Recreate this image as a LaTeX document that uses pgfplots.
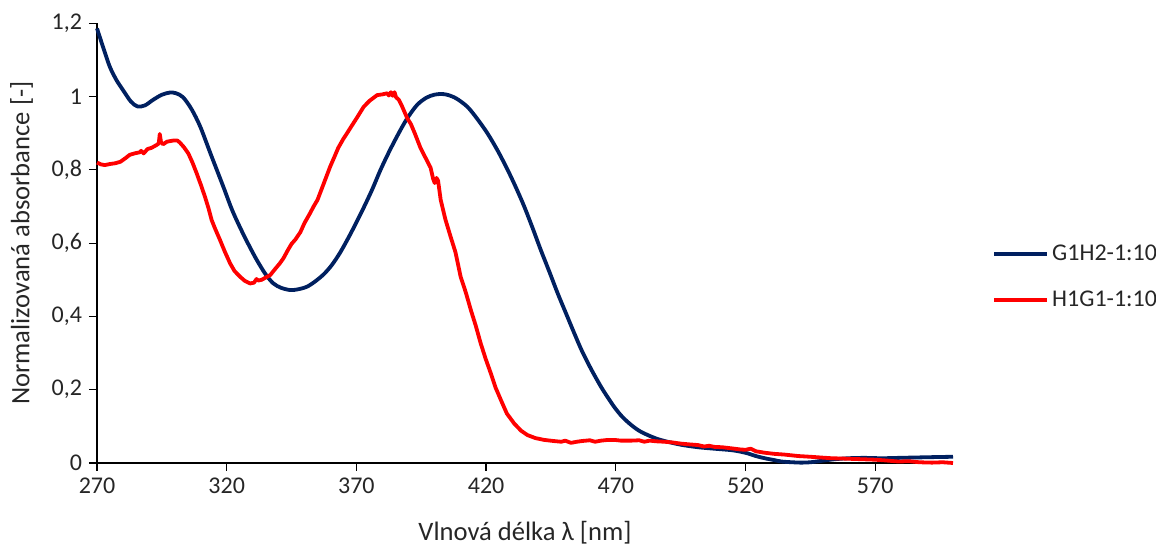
\documentclass[border=0pt]{standalone}
\usepackage{pgfplots}
\pgfplotsset{compat=1.18}
\usepackage{fontspec}
\setmainfont{Carlito}
\definecolor{navy}{RGB}{0,32,96}
\definecolor{redc}{RGB}{255,0,0}
\begin{document}
\begin{tikzpicture}
\path[use as bounding box] (-48.5pt,-41pt) rectangle (529.5pt,231.5pt);
\begin{axis}[
  at={(0,0)}, anchor=south west,
  scale only axis, width=428pt, height=219.85pt,
  xmin=270, xmax=600, ymin=0, ymax=1.2,
  xtick={270,320,370,420,470,520,570},
  ytick={0,0.2,0.4,0.6,0.8,1,1.2},
  yticklabels={0,{0,2},{0,4},{0,6},{0,8},1,{1,2}},
  axis x line*=bottom, axis y line*=left,
  tick align=outside, major tick length=4pt,
  tick style={black, line width=0.6pt},
  axis line style={black, line width=0.6pt},
  /pgf/number format/assume math mode=true,
  font=\fontsize{12}{14.4}\selectfont,
  tick label style={font=\fontsize{12}{14.4}\selectfont, text=black!85},
  xlabel={Vlnová délka λ [nm]},
  ylabel={Normalizovaná absorbance [-]},
  xlabel style={at={(axis description cs:0.5,-0.159)}, anchor=center, font=\fontsize{13.3}{16}\selectfont, text=black!85},
  ylabel style={at={(axis description cs:-0.088,0.5)}, anchor=center, font=\fontsize{13.3}{16}\selectfont, text=black!85},
  legend style={draw=none, fill=none, at={(1.0456,0.423)}, anchor=west, inner xsep=0pt, inner ysep=0pt, row sep=10pt, nodes={inner xsep=1.5pt}, font=\fontsize{12}{14.4}\selectfont, text=black!85},
  legend cell align=left,
  legend image code/.code={\draw[#1] (0pt,0pt) -- (26.5pt,0pt);},
  clip=false,
]
\addplot[navy, line width=1.9pt, line join=round, smooth] coordinates {
(270,1.186) (272.3,1.136) (274.9,1.082) (277.5,1.045) (280,1.018) (283,0.987)
(285.6,0.973) (288.5,0.976) (291.6,0.991) (295,1.005) (298.1,1.011) (300.5,1.009)
(303.2,0.998) (306.5,0.965) (309.8,0.918) (314,0.840) (318.7,0.754) (322,0.692)
(325.2,0.642) (328.5,0.595) (331.6,0.554) (335,0.515) (338,0.490) (341,0.478)
(344.5,0.472) (347.5,0.474) (350.9,0.481) (354,0.495) (357.4,0.515) (360.5,0.540)
(363.8,0.575) (367.7,0.625) (372,0.685) (376,0.745) (379.3,0.800) (383,0.855)
(387,0.909) (390,0.945) (393.5,0.978) (397,0.997) (400,1.005) (402.5,1.007)
(405,1.005) (408.5,0.995) (412.8,0.972) (416.5,0.940) (420.5,0.900) (424.5,0.852)
(428.3,0.800) (431.5,0.752) (434.7,0.700) (438,0.640) (441.1,0.581) (444.5,0.520)
(447.6,0.463) (451,0.405) (454,0.354) (457,0.305) (460.5,0.256) (464.3,0.208)
(467,0.178) (469.5,0.152) (472.5,0.126) (475.9,0.104) (479,0.088) (482.4,0.076)
(485.5,0.067) (488.8,0.060) (495,0.050) (501.7,0.043) (508,0.039) (514.6,0.035)
(518,0.031) (521,0.026) (524,0.019) (527.4,0.013) (531,0.008) (533.9,0.004)
(538,0.002) (541.6,0.001) (545,0.002) (549.4,0.006) (554,0.010) (559.7,0.013)
(566,0.014) (572.5,0.013) (579,0.014) (585.4,0.015) (592,0.016) (600,0.017)
};
\addlegendentry{G1H2-1:10}
\addplot[redc, line width=1.9pt, line join=round] coordinates {
(270,0.820) (271.5,0.815) (273,0.813) (275,0.816) (277,0.818) (279,0.822)
(281,0.832) (282.6,0.841) (284.5,0.845) (286.5,0.848) (287,0.852) (288,0.845)
(289.5,0.857) (291,0.860) (293,0.868) (293.8,0.872) (294.2,0.898) (294.7,0.875)
(295.5,0.870) (297,0.877) (299.4,0.880) (301,0.880) (302,0.874) (303.5,0.862)
(305.2,0.845) (306.8,0.820) (308.4,0.791) (310,0.760) (311.6,0.727) (313,0.695)
(314.2,0.663) (315.5,0.640) (317.4,0.609) (319.2,0.578) (321.3,0.545) (323,0.524)
(325.2,0.508) (327,0.497) (329,0.490) (330.5,0.492) (331.5,0.502) (332.2,0.498)
(333.5,0.500) (335,0.506) (336.8,0.513) (338.5,0.528) (340.5,0.545) (341.9,0.559)
(343.5,0.580) (345,0.598) (346.5,0.610) (348.4,0.630) (350,0.655) (352,0.680)
(353.5,0.700) (355,0.718) (357,0.755) (359.9,0.809) (361.5,0.835) (363,0.860)
(365,0.885) (366.4,0.900) (368,0.918) (370,0.940) (372.8,0.972) (375,0.988)
(378,1.004) (380,1.006) (381.9,1.009) (382.5,1.003) (383.3,1.012) (384,1.002)
(384.7,1.012) (385.3,0.998) (386.4,0.991) (387.5,0.975) (389.6,0.941) (391,0.925)
(392.5,0.900) (394.7,0.860) (396.5,0.835) (398.6,0.806) (399.6,0.775) (400.2,0.764)
(400.9,0.778) (401.5,0.770) (402.5,0.718) (404.3,0.665) (406.3,0.618) (408.2,0.575)
(410.2,0.508) (412.2,0.465) (414.1,0.418) (416,0.375) (417.9,0.327) (419.8,0.285)
(421.8,0.245) (423.7,0.205) (425.7,0.172) (428,0.135) (430.8,0.108) (433.5,0.088)
(436,0.076) (439,0.068) (442.4,0.063) (446,0.060) (449,0.058) (450.5,0.061)
(452.7,0.055) (455,0.058) (457,0.060) (460,0.062) (462,0.058) (464.3,0.061)
(467,0.063) (469.5,0.063) (472,0.061) (475.9,0.061) (479,0.062) (481,0.058)
(483,0.061) (486,0.059) (488.8,0.058) (492,0.056) (495,0.053) (498,0.051)
(501.7,0.049) (504,0.045) (506,0.047) (508,0.044) (511,0.043) (514.6,0.040)
(518,0.037) (520,0.036) (522,0.039) (524,0.032) (527.4,0.028) (531,0.025)
(535,0.023) (540.3,0.019) (545,0.017) (549,0.015) (553.2,0.013) (558,0.012)
(562,0.011) (566.1,0.010) (570,0.009) (574,0.007) (579,0.004) (583,0.005)
(587,0.002) (591.9,0.001) (596,0.002) (600,0.000)
};
\addlegendentry{H1G1-1:10}
\end{axis}
\end{tikzpicture}
\end{document}
